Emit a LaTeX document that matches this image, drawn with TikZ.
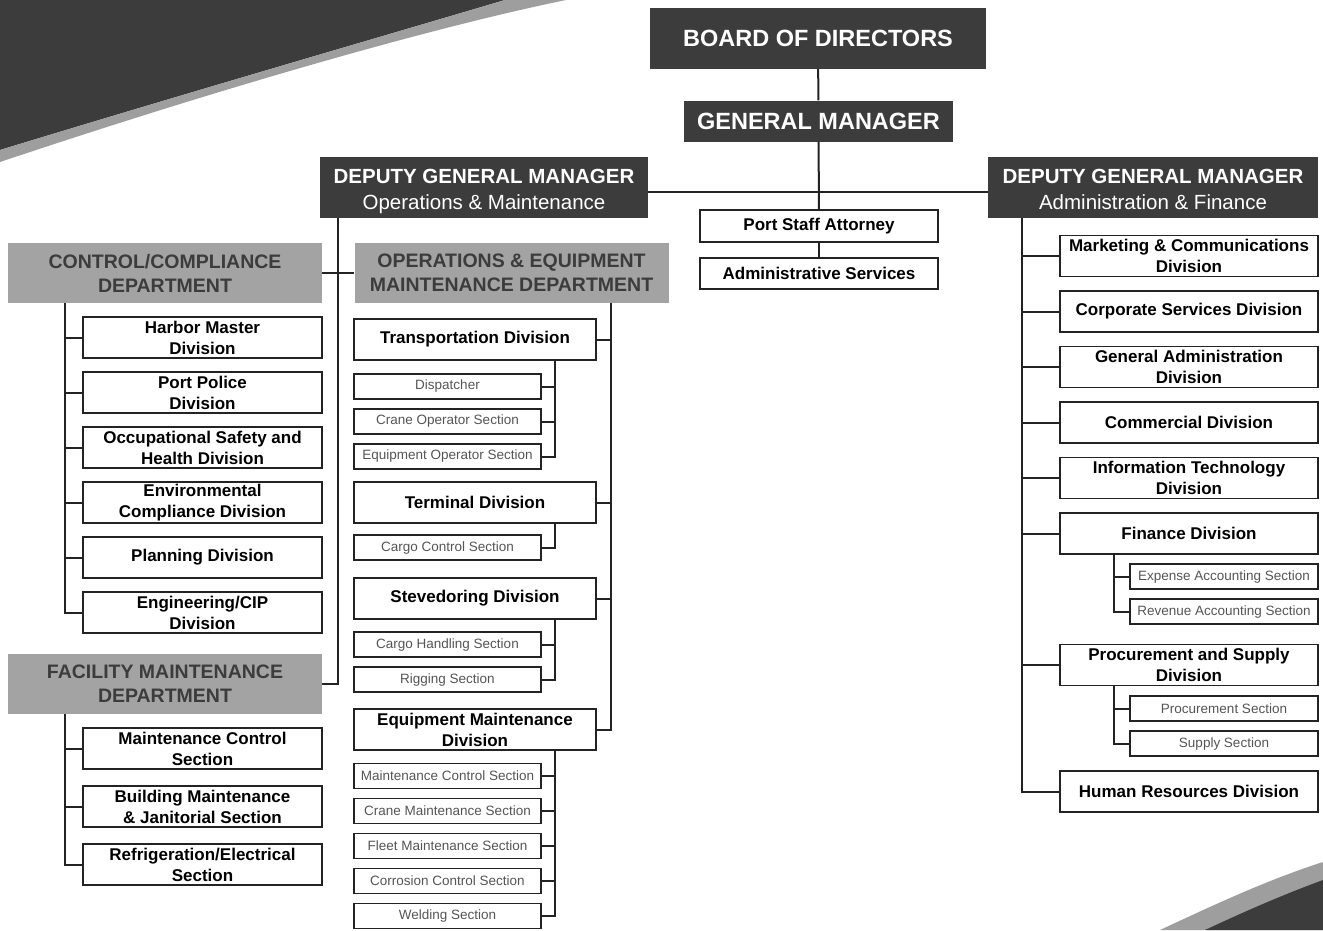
\documentclass[tikz,border=0pt]{standalone}
\usepackage{fontspec}
\setmainfont{Liberation Sans}
\usetikzlibrary{%
	positioning,%
}
\tikzset{
	nodes={align=center},
}
\definecolor{cdark}{RGB}{60, 60, 60}
\definecolor{cdept}{RGB}{163, 163, 163}
\definecolor{cband}{RGB}{158, 158, 158}
\definecolor{cline}{RGB}{35, 35, 35}
\definecolor{csect}{RGB}{85, 85, 85}

\begin{document}
\begin{tikzpicture}[x=1pt, y=-1pt,%
		head/.style={rectangle, fill=cdark, text=white, inner sep=0pt},%
		dept/.style={rectangle, fill=cdept, text=cdark, inner sep=0pt, minimum width=314pt, minimum height=60pt, font=\bfseries\fontsize{19.5}{24}\selectfont},%
		div/.style={draw=cline, rectangle, line width=1.5pt, fill=white, inner sep=1pt, minimum height=41pt, font=\bfseries\fontsize{17}{21}\selectfont},%
		sect/.style={draw=cline, rectangle, line width=1.5pt, fill=white, inner sep=1pt, minimum height=25pt, text=csect, font=\fontsize{13.5}{16}\selectfont},%
		conn/.style={draw=cline, line width=2pt}]
	\fill[white] (0,0) rectangle (1323,930);
	\useasboundingbox (0,0) rectangle (1323,930);

	% corner swooshes
	\fill[cdark] (0,0) -- (0,150) .. controls (180,95) and (370,40) .. (505,0) -- cycle;
	\fill[cband] (0,150) .. controls (180,95) and (370,40) .. (505,0) -- (566,0) .. controls (420,30) and (200,95) .. (0,162) -- cycle;
	\fill[cband] (1160,930) .. controls (1220,902) and (1270,879) .. (1323,862) -- (1323,930) -- cycle;
	\fill[cdark] (1205,930) .. controls (1250,909) and (1285,894) .. (1323,880) -- (1323,930) -- cycle;

	% top of the chart
	\node[head, minimum width=336pt, minimum height=61pt, font=\bfseries\fontsize{23.5}{28}\selectfont] (board) at (818,38.5) {BOARD OF DIRECTORS};
	\node[head, minimum width=269pt, minimum height=41pt, font=\bfseries\fontsize{23.5}{28}\selectfont] (gm) at (818.5,121) {GENERAL MANAGER};
	\node[head, minimum width=328pt, minimum height=61pt, font=\fontsize{20.5}{26}\selectfont] (dgmo) at (484,187.5) {\textbf{DEPUTY GENERAL MANAGER}\rule{0pt}{23pt}\\Operations \& Maintenance\rule[-5pt]{0pt}{1pt}};
	\node[head, minimum width=330pt, minimum height=61pt, font=\fontsize{20.5}{26}\selectfont] (dgma) at (1153,187.5) {\textbf{DEPUTY GENERAL MANAGER}\rule{0pt}{23pt}\\Administration \& Finance\rule[-5pt]{0pt}{1pt}};

	\node[div, minimum width=238pt, minimum height=32pt] (psa) at (819,226) {Port Staff Attorney};
	\node[div, minimum width=238pt, minimum height=31pt] (as) at (819,273.5) {Administrative Services};

	% departments
	\node[dept] (cc) at (165,273) {CONTROL/COMPLIANCE\\DEPARTMENT};
	\node[dept] (oem) at (511.5,273) {OPERATIONS \& EQUIPMENT\\MAINTENANCE DEPARTMENT};
	\node[dept] (fm) at (165,684) {FACILITY MAINTENANCE\\DEPARTMENT};

	\node[div, minimum width=239pt] (hm) at (202.5,337.5) {Harbor Master\\Division};
	\node[div, minimum width=239pt] (pp) [below=12.5pt of hm] {Port Police\\Division};
	\node[div, minimum width=239pt] (osh) [below=12.5pt of pp] {Occupational Safety and\\Health Division};
	\node[div, minimum width=239pt] (env) [below=12.5pt of osh] {Environmental\\Compliance Division};
	\node[div, minimum width=239pt] (plan) [below=12.5pt of env] {Planning Division};
	\node[div, minimum width=239pt] (eng) [below=12.5pt of plan] {Engineering/CIP\\Division};

	\node[div, minimum width=239pt] (mcs) at (202.5,748.5) {Maintenance Control\\Section};
	\node[div, minimum width=239pt] (bmj) [below=15.5pt of mcs] {Building Maintenance\\\& Janitorial Section};
	\node[div, minimum width=239pt] (ref) [below=15.5pt of bmj] {Refrigeration/Electrical\\Section};

	\node[div, minimum width=242pt] (trans) at (475,339.5) {Transportation Division};
	\node[sect, minimum width=187pt] (disp) at (447.5,386.5) {Dispatcher};
	\node[sect, minimum width=187pt] (crop) [below=8.5pt of disp] {Crane Operator Section};
	\node[sect, minimum width=187pt] (eqop) [below=8.5pt of crop] {Equipment Operator Section};

	\node[div, minimum width=242pt] (term) at (475,502.5) {Terminal Division};
	\node[sect, minimum width=187pt] (cgc) at (447.5,547.5) {Cargo Control Section};

	\node[div, minimum width=242pt] (stev) at (475,598.5) {Stevedoring Division};
	\node[sect, minimum width=187pt] (cgh) at (447.5,644.5) {Cargo Handling Section};
	\node[sect, minimum width=187pt] (rig) [below=8.5pt of cgh] {Rigging Section};

	\node[div, minimum width=242pt] (emd) at (475,729.5) {Equipment Maintenance\\Division};
	\node[sect, minimum width=187pt] (emc) at (447.5,776) {Maintenance Control Section};
	\node[sect, minimum width=187pt] (crm) [below=8.5pt of emc] {Crane Maintenance Section};
	\node[sect, minimum width=187pt] (flm) [below=8.5pt of crm] {Fleet Maintenance Section};
	\node[sect, minimum width=187pt] (corr) [below=8.5pt of flm] {Corrosion Control Section};
	\node[sect, minimum width=187pt] (weld) [below=8.5pt of corr] {Welding Section};

	% administration side
	\node[div, minimum width=258pt] (mkt) at (1189,256) {Marketing \& Communications\\Division};
	\node[div, minimum width=258pt] (corp) [below=13pt of mkt] {Corporate Services Division};
	\node[div, minimum width=258pt] (gad) [below=13pt of corp] {General Administration\\Division};
	\node[div, minimum width=258pt] (com) [below=13pt of gad] {Commercial Division};
	\node[div, minimum width=258pt] (it) [below=13pt of com] {Information Technology\\Division};
	\node[div, minimum width=258pt] (fin) [below=13pt of it] {Finance Division};
	\node[sect, minimum width=188pt] (exp) at (1224,576.5) {Expense Accounting Section};
	\node[sect, minimum width=188pt] (rev) [below=8.5pt of exp] {Revenue Accounting Section};
	\node[div, minimum width=258pt] (proc) at (1189,665) {Procurement and Supply\\Division};
	\node[sect, minimum width=188pt] (prs) at (1224,708.5) {Procurement Section};
	\node[sect, minimum width=188pt] (sup) [below=8.5pt of prs] {Supply Section};
	\node[div, minimum width=258pt] (hr) at (1189,791.5) {Human Resources Division};

	% trunk lines
	\coordinate (cctr) at (65,0);
	\coordinate (dotr) at (338,0);
	\coordinate (oemtr) at (611,0);
	\coordinate (sectr) at (555,0);
	\coordinate (datr) at (1022,0);
	\coordinate (fintr) at (1114,0);

	\draw[conn] (board) -- (gm);
	\draw[conn] (gm) -- (psa);
	\draw[conn] (psa) -- (as);
	\draw[conn] ([yshift=-4.5pt]dgmo.east) -- ([yshift=-4.5pt]dgma.west);

	\draw[conn] (dgmo.south -| dotr) |- (cc.east);
	\draw[conn] (dgmo.south -| dotr) |- (oem.west);
	\draw[conn] (dgmo.south -| dotr) |- (fm.east);

	\draw[conn] (cc.south -| cctr) |- (hm.west);
	\draw[conn] (cc.south -| cctr) |- (pp.west);
	\draw[conn] (cc.south -| cctr) |- (osh.west);
	\draw[conn] (cc.south -| cctr) |- (env.west);
	\draw[conn] (cc.south -| cctr) |- (plan.west);
	\draw[conn] (cc.south -| cctr) |- (eng.west);

	\draw[conn] (fm.south -| cctr) |- (mcs.west);
	\draw[conn] (fm.south -| cctr) |- (bmj.west);
	\draw[conn] (fm.south -| cctr) |- (ref.west);

	\draw[conn] (oem.south -| oemtr) |- (trans.east);
	\draw[conn] (oem.south -| oemtr) |- (term.east);
	\draw[conn] (oem.south -| oemtr) |- (stev.east);
	\draw[conn] (oem.south -| oemtr) |- (emd.east);

	\draw[conn] (trans.south -| sectr) |- (disp.east);
	\draw[conn] (trans.south -| sectr) |- (crop.east);
	\draw[conn] (trans.south -| sectr) |- (eqop.east);
	\draw[conn] (term.south -| sectr) |- (cgc.east);
	\draw[conn] (stev.south -| sectr) |- (cgh.east);
	\draw[conn] (stev.south -| sectr) |- (rig.east);
	\draw[conn] (emd.south -| sectr) |- (emc.east);
	\draw[conn] (emd.south -| sectr) |- (crm.east);
	\draw[conn] (emd.south -| sectr) |- (flm.east);
	\draw[conn] (emd.south -| sectr) |- (corr.east);
	\draw[conn] (emd.south -| sectr) |- (weld.east);

	\draw[conn] (dgma.south -| datr) |- (mkt.west);
	\draw[conn] (dgma.south -| datr) |- (corp.west);
	\draw[conn] (dgma.south -| datr) |- (gad.west);
	\draw[conn] (dgma.south -| datr) |- (com.west);
	\draw[conn] (dgma.south -| datr) |- (it.west);
	\draw[conn] (dgma.south -| datr) |- (fin.west);
	\draw[conn] (dgma.south -| datr) |- (proc.west);
	\draw[conn] (dgma.south -| datr) |- (hr.west);

	\draw[conn] (fin.south -| fintr) |- (exp.west);
	\draw[conn] (fin.south -| fintr) |- (rev.west);
	\draw[conn] (proc.south -| fintr) |- (prs.west);
	\draw[conn] (proc.south -| fintr) |- (sup.west);
\end{tikzpicture}
\end{document}
